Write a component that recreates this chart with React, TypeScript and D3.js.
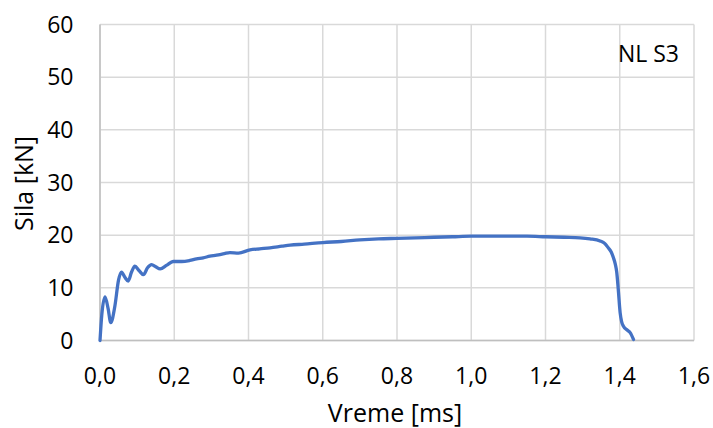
import React from "react";
import * as d3 from "d3";

const timeMs = [0, 0.005, 0.0135, 0.022, 0.029, 0.04, 0.05, 0.058, 0.067, 0.076, 0.085, 0.094, 0.105, 0.117, 0.128, 0.139, 0.15, 0.162, 0.18, 0.197, 0.22, 0.242, 0.26, 0.278, 0.296, 0.314, 0.335, 0.35, 0.373, 0.404, 0.43, 0.458, 0.49, 0.512, 0.55, 0.6, 0.65, 0.7, 0.75, 0.8, 0.85, 0.9, 0.95, 1.0, 1.05, 1.1, 1.15, 1.2, 1.25, 1.293, 1.32, 1.347, 1.36, 1.369, 1.377, 1.383, 1.388, 1.392, 1.396, 1.401, 1.405, 1.41, 1.42, 1.428, 1.437];
const forceKN = [0, 5.0, 8.3, 6.0, 3.4, 6.5, 11.5, 13.0, 12.0, 11.3, 13.0, 14.1, 13.3, 12.5, 13.8, 14.4, 14.0, 13.6, 14.3, 15.0, 15.0, 15.2, 15.5, 15.7, 16.0, 16.2, 16.5, 16.7, 16.6, 17.2, 17.4, 17.6, 17.9, 18.1, 18.3, 18.6, 18.8, 19.1, 19.3, 19.4, 19.5, 19.6, 19.7, 19.8, 19.8, 19.8, 19.8, 19.7, 19.6, 19.5, 19.3, 18.9, 18.4, 17.6, 16.8, 15.7, 14.5, 12.9, 9.7, 5.3, 3.6, 2.7, 2.0, 1.5, 0.2];
const xTicks = [0, 0.2, 0.4, 0.6, 0.8, 1.0, 1.2, 1.4, 1.6];
const yTicks = [0, 10, 20, 30, 40, 50, 60];
const xTitle = "Vreme [ms]";
const yTitle = "Sila [kN]";
const seriesLabel = "NL S3";

const W = 713, H = 428;
const L = 100, R = 694, T = 24.5, B = 340.5;
const FONT = "'Open Sans', sans-serif";

export default function App() {
  const x = d3.scaleLinear().domain([0, 1.6]).range([L, R]);
  const y = d3.scaleLinear().domain([0, 60]).range([B, T]);
  const pts = timeMs.map((t, i) => [t, forceKN[i]] as [number, number]);
  const line = d3.line<[number, number]>().x(d => x(d[0])).y(d => y(d[1])).curve(d3.curveMonotoneX);
  const fmt = (v: number) => v.toFixed(1).replace(".", ",");
  return (
    <svg width={W} height={H} style={{ position: "absolute", left: 0, top: 0, background: "#fff" }} fontFamily={FONT}>
      <rect width={W} height={H} fill="#fff" />
      {yTicks.map(v => (
        <line key={"gy" + v} x1={L} x2={R} y1={y(v)} y2={y(v)} stroke="#d9d9d9" strokeWidth={1.5} />
      ))}
      {xTicks.map(v => (
        <line key={"gx" + v} x1={x(v)} x2={x(v)} y1={T} y2={B} stroke="#d9d9d9" strokeWidth={1.5} />
      ))}
      <line x1={L} x2={L} y1={T} y2={B} stroke="#bfbfbf" strokeWidth={1.5} />
      <line x1={L} x2={R} y1={B} y2={B} stroke="#bfbfbf" strokeWidth={1.5} />
      <path d={line(pts) || ""} fill="none" stroke="#4472c4" strokeWidth={3.3} strokeLinejoin="round" strokeLinecap="round" />
      {yTicks.map(v => (
        <text key={"ty" + v} x={73.5} y={y(v) + 8.2} textAnchor="end" fontSize={23} fill="#000">{v}</text>
      ))}
      {xTicks.map(v => (
        <text key={"tx" + v} x={x(v)} y={383.7} textAnchor="middle" fontSize={23} fill="#000">{fmt(v)}</text>
      ))}
      <text x={395} y={421.5} textAnchor="middle" fontSize={25} fill="#000">{xTitle}</text>
      <text transform={`translate(33,183.5) rotate(-90)`} textAnchor="middle" fontSize={25} fill="#000">{yTitle}</text>
      <text x={679} y={61.7} textAnchor="end" fontSize={23} fill="#000">{seriesLabel}</text>
    </svg>
  );
}
